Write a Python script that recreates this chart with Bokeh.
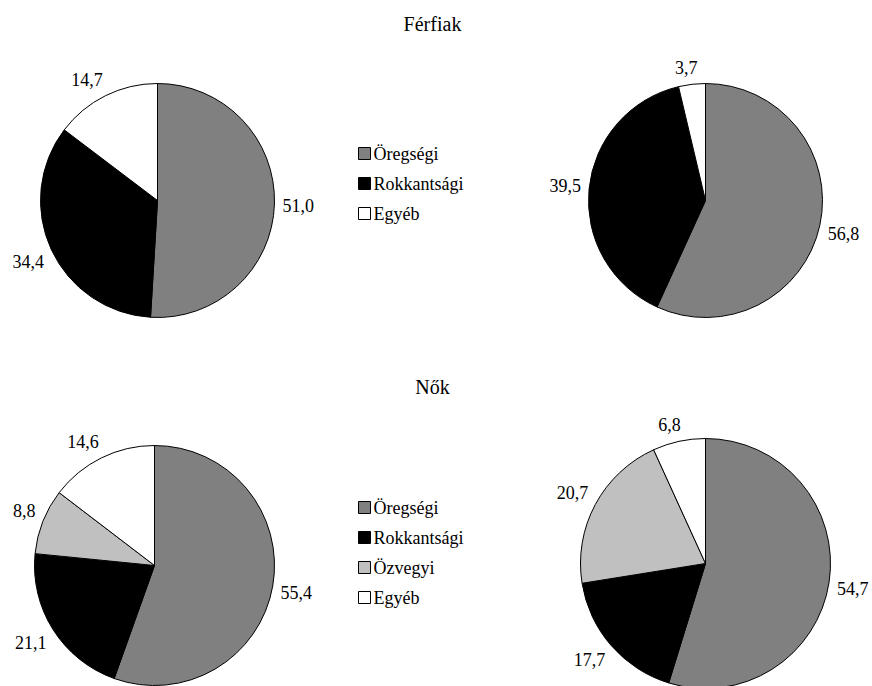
import math
from bokeh.plotting import figure
from bokeh.models import Range1d
from bokeh.core.properties import value
from bokeh.embed import file_html
from bokeh.resources import INLINE

# ---- data ----
categories_men = ["Öregségi", "Rokkantsági", "Egyéb"]
categories_women = ["Öregségi", "Rokkantsági", "Özvegyi", "Egyéb"]
men_left = [51.0, 34.4, 14.7]
men_right = [56.8, 39.5, 3.7]
women_left = [55.4, 21.1, 8.8, 14.6]
women_right = [54.7, 17.7, 20.7, 6.8]
section_titles = ["Férfiak", "Nők"]

colors = {"Öregségi": "#808080", "Rokkantsági": "#000000",
          "Özvegyi": "#c0c0c0", "Egyéb": "#ffffff"}

FONT = value("Liberation Serif")
W, H = 872, 686


def sy(y):
    return H - y


p = figure(width=W, height=H, output_backend="svg", toolbar_location=None,
           x_range=Range1d(0, W), y_range=Range1d(0, H),
           min_border=0)
p.axis.visible = False
p.xgrid.visible = False
p.ygrid.visible = False
p.outline_line_color = None
p.background_fill_color = "white"


def fmt(v):
    return f"{v:.1f}".replace(".", ",")


def pie(cats, vals, cx, cy, r, fs=18):
    total = sum(vals)
    cum = 0.0
    lx, ly, lt = [], [], []
    for c, v in zip(cats, vals):
        a0 = cum / total
        cum += v
        a1 = cum / total
        start = math.pi / 2 - 2 * math.pi * a1
        end = math.pi / 2 - 2 * math.pi * a0
        p.wedge(x=cx, y=sy(cy), radius=r, start_angle=start, end_angle=end,
                fill_color=colors[c], line_color="black", line_width=1)
        mid = math.pi / 2 - 2 * math.pi * (a0 + a1) / 2
        dx, dy = math.cos(mid), math.sin(mid)
        txt = fmt(v)
        hw = fs * (0.5 * sum(ch.isdigit() for ch in txt) + 0.25 * txt.count(",")) / 2
        hh = 9
        d = r + 8
        lx.append(cx + dx * d + hw * math.tanh(4 * dx))
        ly.append(sy(cy) + dy * d + hh * math.tanh(4 * dy))
        lt.append(txt)
    p.text(x=lx, y=ly, text=lt, text_align="center", text_baseline="middle",
           text_font=FONT, text_font_size=f"{fs}px", text_color="black")


def legend(cats, x, y0, step=30, size=12, fs=18):
    ys = [sy(y0 + i * step) for i in range(len(cats))]
    p.rect(x=[x] * len(cats), y=ys, width=size, height=size,
           fill_color=[colors[c] for c in cats], line_color="black", line_width=1)
    p.text(x=[x + size / 2 + 3] * len(cats), y=ys, text=cats,
           text_align="left", text_baseline="middle",
           text_font=FONT, text_font_size=f"{fs}px", text_color="black")


# titles
p.text(x=[432, 432], y=[sy(23), sy(386)], text=section_titles,
       text_align="center", text_baseline="middle",
       text_font=FONT, text_font_size="20px", text_color="black")

# men
pie(categories_men, men_left, 157, 200, 117)
pie(categories_men, men_right, 705, 200, 117)
legend(categories_men, 364, 153)

# women
pie(categories_women, women_left, 154, 565, 120)
pie(categories_women, women_right, 705, 563, 125)
legend(categories_women, 364, 507)

open("out.html", "w").write(file_html(p, INLINE))
